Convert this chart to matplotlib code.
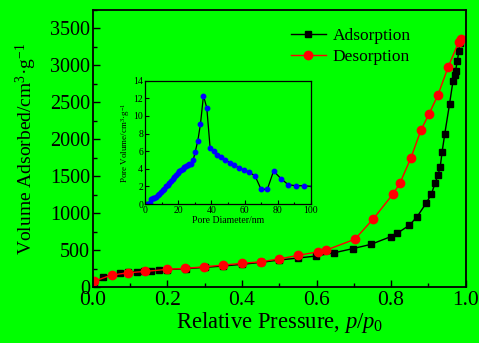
import matplotlib
matplotlib.use("Agg")
import matplotlib.pyplot as plt
from matplotlib.ticker import MultipleLocator

# Nitrogen adsorption-desorption isotherm
ads_p = [0.004, 0.028, 0.073, 0.095, 0.117, 0.137, 0.157, 0.178, 0.2, 0.25, 0.3,
         0.35, 0.4, 0.45, 0.5, 0.55, 0.598, 0.648, 0.697, 0.746, 0.799, 0.816,
         0.849, 0.870, 0.894, 0.908, 0.918, 0.926, 0.932, 0.937, 0.944, 0.957,
         0.966, 0.971, 0.973, 0.978, 0.982, 0.985]
ads_v = [40, 140, 185, 198, 208, 215, 221, 228, 236, 250, 267, 285, 308, 334,
         366, 393, 420, 465, 520, 578, 682, 727, 836, 953, 1134, 1256, 1405,
         1518, 1630, 1829, 2069, 2480, 2782, 2873, 2927, 3062, 3201, 3301]

des_p = [0.004, 0.05, 0.095, 0.14, 0.2, 0.247, 0.299, 0.35, 0.399, 0.451, 0.5,
         0.55, 0.605, 0.626, 0.703, 0.752, 0.806, 0.824, 0.853, 0.880, 0.902,
         0.926, 0.953, 0.982, 0.987]
des_v = [81, 163, 194, 212, 240, 253, 275, 298, 321, 343, 381, 429, 478, 501,
         648, 921, 1264, 1409, 1744, 2122, 2344, 2601, 2975, 3323, 3355]

# Pore size distribution
pore_d = [1.0, 2.0, 2.8, 3.6, 4.6, 5.6, 6.6, 7.6, 8.6, 9.6, 10.6, 11.6, 12.6,
          13.6, 14.6, 15.6, 16.6, 17.6, 18.6, 19.6, 20.6, 21.6, 22.6, 23.6,
          24.6, 25.6, 26.6, 27.6, 29.0, 30.2, 31.8, 33.4, 35.2, 37.2, 39.2,
          41.4, 43.6, 46.0, 48.4, 51.2, 53.8, 56.6, 59.6, 62.9, 66.3, 69.9,
          73.7, 77.5, 81.9, 86.3, 90.8, 95.8, 101.0]
pore_v = [0, 0, 0.1, 0.57, 0.64, 0.72, 0.83, 1.0, 1.2, 1.4, 1.55, 1.75, 2.0,
          2.2, 2.35, 2.6, 2.85, 3.05, 3.3, 3.5, 3.7, 3.85, 4.0, 4.2, 4.35,
          4.45, 4.5, 4.6, 5.0, 5.9, 7.2, 9.1, 12.3, 10.9, 6.4, 6.0, 5.6, 5.3,
          4.96, 4.7, 4.4, 4.1, 3.86, 3.6, 3.2, 1.7, 1.66, 3.75, 2.9, 2.2, 2.08,
          2.08, 2.0]

GREEN = "#00ff00"
SERIF = "Liberation Serif"

plt.rcParams["font.family"] = SERIF
plt.rcParams["mathtext.fontset"] = "custom"
plt.rcParams["mathtext.rm"] = SERIF
plt.rcParams["mathtext.it"] = SERIF + ":italic"

fig = plt.figure(figsize=(4.79, 3.43), dpi=100, facecolor=GREEN)
ax = fig.add_axes([0.194, 0.163, 0.778, 0.808], facecolor=GREEN)

ax.plot(ads_p, ads_v, color="black", marker="s", markersize=4.5, lw=1.0,
        label="Adsorption")
ax.plot(des_p, des_v, color="red", marker="o", markersize=6, lw=1.0,
        label="Desorption")

ax.set_xlim(0, 1.0)
ax.set_ylim(0, 3750)
ax.xaxis.set_major_locator(MultipleLocator(0.2))
ax.xaxis.set_minor_locator(MultipleLocator(0.1))
ax.yaxis.set_major_locator(MultipleLocator(500))
ax.yaxis.set_minor_locator(MultipleLocator(250))
ax.set_xticklabels([f"{v:.1f}" for v in ax.get_xticks()])
ax.tick_params(which="both", direction="in", pad=2)
ax.tick_params(axis="x", labelsize=15.5, pad=3)
ax.tick_params(axis="y", labelsize=14.5)
ax.tick_params(which="major", length=5, width=1.0)
ax.tick_params(which="minor", length=3, width=1.0)
for s in ax.spines.values():
    s.set_linewidth(1.3)

ax.set_xlabel("Relative Pressure, $p/p_0$", fontsize=16.3, labelpad=0)
ax.set_ylabel("Volume Adsorbed/cm$^3$·g$^{-1}$", fontsize=14, labelpad=8)

ax.legend(loc="upper right", bbox_to_anchor=(0.89, 0.985), frameon=False,
          fontsize=12.5, handlelength=2.0, handletextpad=0.4,
          labelspacing=0.25, borderaxespad=0.4)

# Inset: pore size distribution
ins = fig.add_axes([0.303, 0.405, 0.346, 0.360], facecolor=GREEN)
ins.plot(pore_d, pore_v, color="black", lw=0.9, marker="o", markersize=3.2,
         markerfacecolor="blue", markeredgecolor="blue", clip_on=True)
ins.set_xlim(0, 100)
ins.set_ylim(0, 14)
ins.xaxis.set_major_locator(MultipleLocator(20))
ins.xaxis.set_minor_locator(MultipleLocator(10))
ins.yaxis.set_major_locator(MultipleLocator(2))
ins.tick_params(which="both", direction="in", labelsize=7, pad=1.5)
ins.tick_params(which="major", length=3, width=0.8)
ins.tick_params(which="minor", length=1.8, width=0.8)
for s in ins.spines.values():
    s.set_linewidth(0.9)
ins.set_xlabel("Pore Diameter/nm", fontsize=7, labelpad=0.5)
ins.set_ylabel("Pore Volume/cm$^3$·g$^{-1}$", fontsize=6.5, labelpad=1)

fig.savefig("out.png", dpi=100, facecolor=GREEN)
